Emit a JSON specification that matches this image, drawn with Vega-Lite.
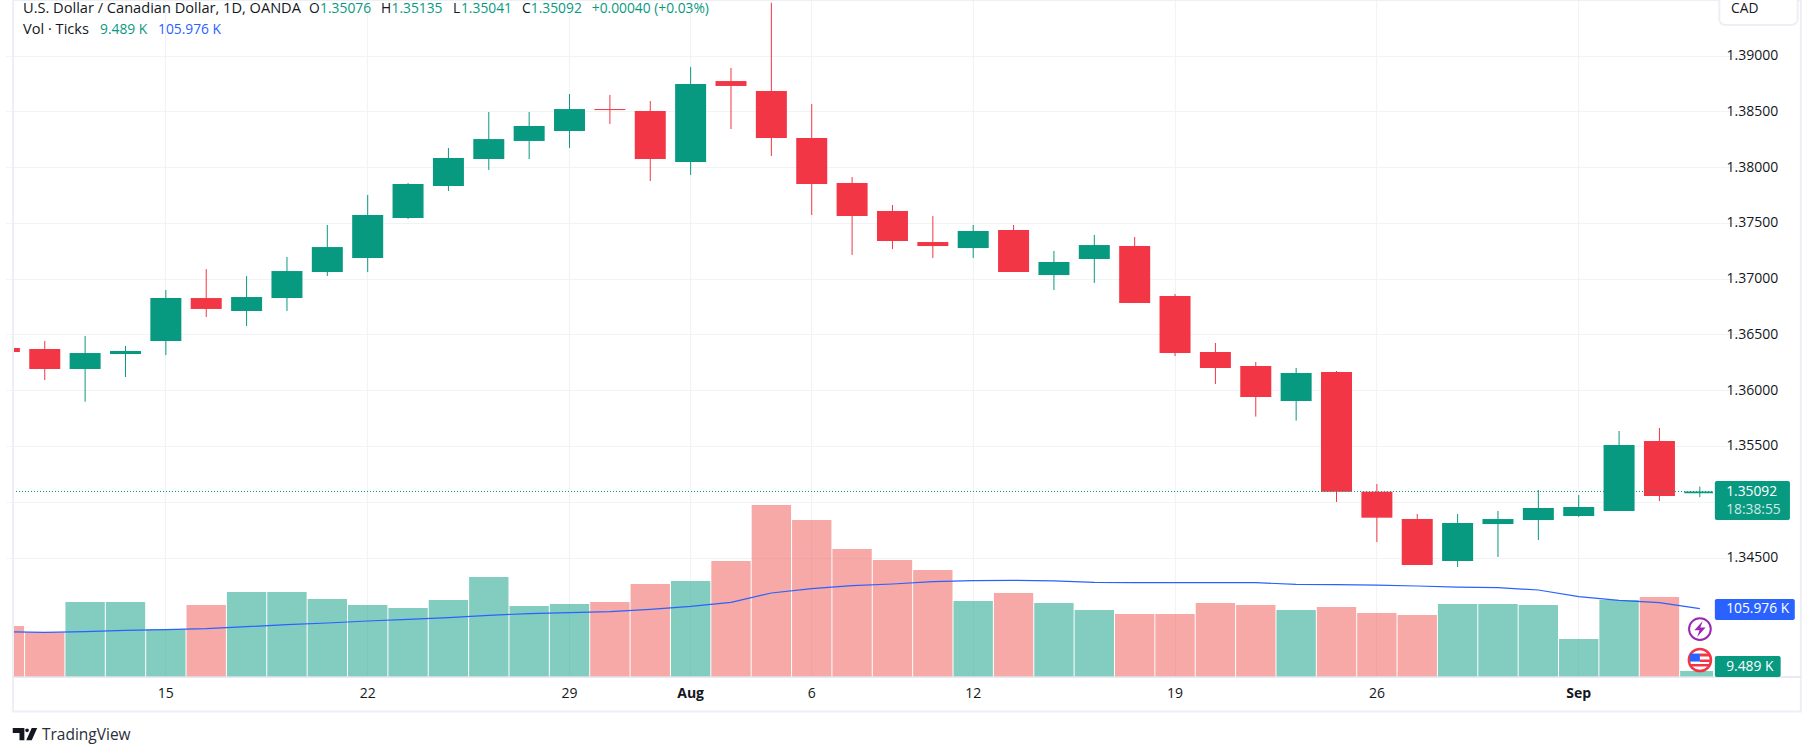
{
  "$schema": "https://vega.github.io/schema/vega-lite/v6.json",
  "width": 1700,
  "height": 677,
  "autosize": {"type": "none"},
  "padding": {"left": 13, "top": 0, "right": 101, "bottom": 79},
  "background": "white",
  "config": {
    "view": {"stroke": null},
    "text": {"font": "Open Sans"},
    "axis": {"labelFont": "Open Sans", "labelFontSize": 14, "labelColor": "#131722", "gridColor": "#f2f3f6", "gridWidth": 1.2}
  },
  "datasets": {
    "candles": [
      {"date": "2024-07-09", "open": 1.36378, "high": 1.36378, "low": 1.36342, "close": 1.36342, "volume": 79.1, "ma": 70.3},
      {"date": "2024-07-10", "open": 1.36369, "high": 1.36441, "low": 1.36091, "close": 1.3619, "volume": 69.3, "ma": 69.3},
      {"date": "2024-07-11", "open": 1.3619, "high": 1.36486, "low": 1.35897, "close": 1.36333, "volume": 116.4, "ma": 70.3},
      {"date": "2024-07-12", "open": 1.36324, "high": 1.36396, "low": 1.36118, "close": 1.36351, "volume": 116.4, "ma": 72.4},
      {"date": "2024-07-15", "open": 1.36441, "high": 1.36898, "low": 1.36315, "close": 1.36826, "volume": 74, "ma": 73.4},
      {"date": "2024-07-16", "open": 1.36826, "high": 1.37086, "low": 1.36656, "close": 1.36728, "volume": 111.7, "ma": 75},
      {"date": "2024-07-17", "open": 1.3671, "high": 1.37023, "low": 1.36575, "close": 1.36835, "volume": 131.9, "ma": 78.1},
      {"date": "2024-07-18", "open": 1.36826, "high": 1.37194, "low": 1.3671, "close": 1.37068, "volume": 131.9, "ma": 81.2},
      {"date": "2024-07-19", "open": 1.37059, "high": 1.37481, "low": 1.37023, "close": 1.37283, "volume": 121, "ma": 83.8},
      {"date": "2024-07-22", "open": 1.37185, "high": 1.3775, "low": 1.37059, "close": 1.3757, "volume": 111.7, "ma": 86.9},
      {"date": "2024-07-23", "open": 1.37543, "high": 1.37857, "low": 1.37534, "close": 1.37848, "volume": 107, "ma": 89.5},
      {"date": "2024-07-24", "open": 1.3783, "high": 1.38171, "low": 1.37785, "close": 1.38081, "volume": 119.5, "ma": 92.1},
      {"date": "2024-07-25", "open": 1.38072, "high": 1.38494, "low": 1.37974, "close": 1.38251, "volume": 155.2, "ma": 95.7},
      {"date": "2024-07-26", "open": 1.38234, "high": 1.38494, "low": 1.38072, "close": 1.38368, "volume": 110.2, "ma": 98.3},
      {"date": "2024-07-29", "open": 1.38323, "high": 1.38655, "low": 1.38171, "close": 1.3852, "volume": 113.3, "ma": 99.8},
      {"date": "2024-07-30", "open": 1.3852, "high": 1.38646, "low": 1.38386, "close": 1.38511, "volume": 116.4, "ma": 101.4},
      {"date": "2024-07-31", "open": 1.38502, "high": 1.38592, "low": 1.37875, "close": 1.38072, "volume": 144.3, "ma": 105},
      {"date": "2024-08-01", "open": 1.38045, "high": 1.38897, "low": 1.37929, "close": 1.38745, "volume": 149, "ma": 109.6},
      {"date": "2024-08-02", "open": 1.38771, "high": 1.38888, "low": 1.38341, "close": 1.38727, "volume": 180, "ma": 115.9},
      {"date": "2024-08-05", "open": 1.38682, "high": 1.39474, "low": 1.38099, "close": 1.3826, "volume": 266.9, "ma": 130.3},
      {"date": "2024-08-06", "open": 1.3826, "high": 1.38565, "low": 1.3757, "close": 1.37848, "volume": 243.6, "ma": 137.1},
      {"date": "2024-08-07", "open": 1.37857, "high": 1.37911, "low": 1.37212, "close": 1.37561, "volume": 198.6, "ma": 141.7},
      {"date": "2024-08-08", "open": 1.37606, "high": 1.3766, "low": 1.37265, "close": 1.37337, "volume": 181.5, "ma": 144.3},
      {"date": "2024-08-09", "open": 1.37328, "high": 1.37561, "low": 1.37185, "close": 1.37292, "volume": 166, "ma": 147.9},
      {"date": "2024-08-12", "open": 1.37274, "high": 1.37481, "low": 1.37185, "close": 1.37427, "volume": 117.9, "ma": 149.5},
      {"date": "2024-08-13", "open": 1.37436, "high": 1.37481, "low": 1.37059, "close": 1.37059, "volume": 130.3, "ma": 150},
      {"date": "2024-08-14", "open": 1.37032, "high": 1.37248, "low": 1.36898, "close": 1.37149, "volume": 114.8, "ma": 149},
      {"date": "2024-08-15", "open": 1.37176, "high": 1.37391, "low": 1.36961, "close": 1.37301, "volume": 104, "ma": 146.9},
      {"date": "2024-08-16", "open": 1.37292, "high": 1.37373, "low": 1.36781, "close": 1.36781, "volume": 97.8, "ma": 146.4},
      {"date": "2024-08-19", "open": 1.36844, "high": 1.36862, "low": 1.36306, "close": 1.36333, "volume": 97.8, "ma": 146.4},
      {"date": "2024-08-20", "open": 1.36342, "high": 1.36423, "low": 1.36055, "close": 1.36199, "volume": 114.8, "ma": 146.4},
      {"date": "2024-08-21", "open": 1.36217, "high": 1.36253, "low": 1.35763, "close": 1.35939, "volume": 111.7, "ma": 146.4},
      {"date": "2024-08-22", "open": 1.35903, "high": 1.36199, "low": 1.35727, "close": 1.36154, "volume": 104, "ma": 143.8},
      {"date": "2024-08-23", "open": 1.36163, "high": 1.36172, "low": 1.34998, "close": 1.3509, "volume": 108.6, "ma": 143.3},
      {"date": "2024-08-26", "open": 1.3509, "high": 1.35159, "low": 1.34639, "close": 1.34857, "volume": 99.3, "ma": 142.7},
      {"date": "2024-08-27", "open": 1.34845, "high": 1.3489, "low": 1.34433, "close": 1.34433, "volume": 96.2, "ma": 141.2},
      {"date": "2024-08-28", "open": 1.34469, "high": 1.3489, "low": 1.34415, "close": 1.34809, "volume": 113.3, "ma": 139.6},
      {"date": "2024-08-29", "open": 1.348, "high": 1.34917, "low": 1.34505, "close": 1.34845, "volume": 113.3, "ma": 138.6},
      {"date": "2024-08-30", "open": 1.34836, "high": 1.35105, "low": 1.34657, "close": 1.34944, "volume": 111.7, "ma": 135},
      {"date": "2024-09-02", "open": 1.34872, "high": 1.3506, "low": 1.34863, "close": 1.34953, "volume": 59, "ma": 124.6},
      {"date": "2024-09-03", "open": 1.34917, "high": 1.35634, "low": 1.34917, "close": 1.35509, "volume": 119.5, "ma": 119},
      {"date": "2024-09-04", "open": 1.35544, "high": 1.35661, "low": 1.35006, "close": 1.35051, "volume": 124.1, "ma": 115.3},
      {"date": "2024-09-05", "open": 1.35076, "high": 1.35135, "low": 1.35041, "close": 1.35092, "volume": 9.489, "ma": 105.976}
    ],
    "labels": [
      {"text": "O", "group": "dark", "pos": 7.545, "level": 1.39417},
      {"text": "1.35076", "group": "up", "pos": 7.82, "level": 1.39417},
      {"text": "H", "group": "dark", "pos": 9.33, "level": 1.39417},
      {"text": "1.35135", "group": "up", "pos": 9.59, "level": 1.39417},
      {"text": "L", "group": "dark", "pos": 11.11, "level": 1.39417},
      {"text": "1.35041", "group": "up", "pos": 11.31, "level": 1.39417},
      {"text": "C", "group": "dark", "pos": 12.82, "level": 1.39417},
      {"text": "1.35092", "group": "up", "pos": 13.04, "level": 1.39417},
      {"text": "+0.00040 (+0.03%)", "group": "up", "pos": 14.55, "level": 1.39417},
      {"text": "9.489 K", "group": "up", "pos": 2.368, "level": 1.39231},
      {"text": "105.976 K", "group": "ma", "pos": 3.805, "level": 1.39231},
      {"text": "CAD", "group": "dark", "pos": 42.77, "level": 1.39417},
      {"text": "1.35092", "group": "badge", "pos": 42.65, "level": 1.35087},
      {"text": "18:38:55", "group": "timer", "pos": 42.65, "level": 1.34926},
      {"text": "105.976 K", "group": "badge", "pos": 42.65, "level": 1.34038},
      {"text": "9.489 K", "group": "badge", "pos": 42.65, "level": 1.33523}
    ],
    "titles": [
      {"text": "U.S. Dollar / Canadian Dollar, 1D, OANDA", "pos": 0.461, "level": 1.39417},
      {"text": "Vol · Ticks", "pos": 0.461, "level": 1.39231}
    ],
    "badges": [
      {"group": "up", "pos": 42.37, "pos2": 44.23, "level": 1.35186, "level2": 1.34836},
      {"group": "ma", "pos": 42.37, "pos2": 44.35, "level": 1.34128, "level2": 1.3394},
      {"group": "up", "pos": 42.37, "pos2": 44, "level": 1.33617, "level2": 1.33429}
    ]
  },
  "layer": [
    {
      "data": {"name": "candles"},
      "encoding": {
        "x": {"field": "date", "type": "ordinal", "axis": null, "scale": {"type": "band", "padding": 0, "range": [-28.8, 1707]}}
      },
      "layer": [
        {
          "mark": {"type": "bar", "clip": true, "width": {"band": 0.975}, "fillOpacity": 0.5},
          "encoding": {
            "y": {"field": "volume", "type": "quantitative", "axis": null, "scale": {"domain": [0, 1050.4], "nice": false}},
            "color": {"condition": {"test": "datum.close >= datum.open", "value": "#089981"}, "value": "#EF5350"}
          }
        },
        {
          "mark": {"type": "line", "clip": true, "color": "#2962FF", "strokeWidth": 1.2},
          "encoding": {"y": {"field": "ma", "type": "quantitative"}}
        }
      ]
    },
    {
      "data": {"name": "candles"},
      "encoding": {
        "x": {
          "field": "date",
          "type": "ordinal",
          "title": null,
          "scale": {"type": "band", "padding": 0, "range": [-28.8, 1707]},
          "axis": {
            "values": ["2024-07-15", "2024-07-22", "2024-07-29", "2024-08-01", "2024-08-06", "2024-08-12", "2024-08-19", "2024-08-26", "2024-09-02"],
            "labelExpr": "datum.value == '2024-08-01' ? 'Aug' : datum.value == '2024-09-02' ? 'Sep' : toString(toNumber(substring(datum.value, 8)))",
            "labelFontWeight": {"condition": {"test": "datum.value == '2024-08-01' || datum.value == '2024-09-02'", "value": 700}, "value": 400},
            "labelAngle": 0,
            "labelOverlap": false,
            "labelPadding": 9,
            "ticks": false,
            "domain": false,
            "grid": true
          }
        },
        "y": {
          "type": "quantitative",
          "scale": {"domain": [1.33429, 1.394975], "nice": false, "zero": false}
        },
        "color": {"condition": {"test": "datum.close >= datum.open", "value": "#089981"}, "value": "#F23645"}
      },
      "layer": [
        {
          "mark": {"type": "rule", "clip": true, "strokeWidth": 1},
          "encoding": {
            "y": {
              "field": "low",
              "type": "quantitative",
              "title": null,
              "scale": {"domain": [1.33429, 1.394975], "nice": false, "zero": false},
              "axis": {
                "orient": "right",
                "values": [1.345, 1.35, 1.355, 1.36, 1.365, 1.37, 1.375, 1.38, 1.385, 1.39],
                "format": ".5f",
                "labelPadding": 13,
                "ticks": false,
                "domain": false,
                "grid": true
              }
            },
            "y2": {"field": "high"}
          }
        },
        {
          "mark": {"type": "bar", "clip": true, "width": 31},
          "encoding": {
            "y": {"field": "open", "type": "quantitative"},
            "y2": {"field": "close"}
          }
        },
        {
          "transform": [{"filter": "datum.date == '2024-09-05'"}],
          "mark": {"type": "rule", "color": "#089981", "strokeDash": [1, 2], "strokeWidth": 1},
          "encoding": {"x": {"value": 0}, "x2": {"value": 1700}, "y": {"field": "close", "type": "quantitative"}, "color": {"value": "#089981"}}
        }
      ]
    },
    {
      "encoding": {
        "x": {"field": "pos", "type": "quantitative", "axis": null, "scale": {"domain": [0.213, 42.324], "nice": false, "zero": false}},
        "y": {"field": "level", "type": "quantitative", "axis": null, "scale": {"domain": [1.33429, 1.394975], "nice": false, "zero": false}}
      },
      "layer": [
        {
          "data": {"values": [{"pos": 0.213, "pos2": 44.5, "level": 1.394975, "level2": 1.3312}]},
          "mark": {"type": "rect", "fill": null, "stroke": "#eeeff5", "strokeWidth": 2},
          "encoding": {"x2": {"field": "pos2"}, "y2": {"field": "level2"}}
        },
        {
          "data": {"values": [{"pos": 0.213, "pos2": 44.5, "level": 1.33429}]},
          "mark": {"type": "rule", "color": "#e0e3eb", "strokeWidth": 1.5},
          "encoding": {"x2": {"field": "pos2"}}
        },
        {
          "data": {"values": [{"pos": 42.48, "pos2": 44.42, "level": 1.3955, "level2": 1.39273}]},
          "mark": {"type": "rect", "fill": "white", "stroke": "#eeeff5", "strokeWidth": 2, "cornerRadius": 6},
          "encoding": {"x2": {"field": "pos2"}, "y2": {"field": "level2"}}
        },
        {
          "data": {"name": "badges"},
          "mark": {"type": "rect", "cornerRadius": 2},
          "encoding": {
            "x2": {"field": "pos2"},
            "y2": {"field": "level2"},
            "color": {"field": "group", "type": "nominal", "legend": null, "scale": {"domain": ["dark", "up", "ma", "badge", "timer"], "range": ["#131722", "#089981", "#2962FF", "#ffffff", "#cfe9e4"]}}
          }
        },
        {
          "data": {"name": "labels"},
          "mark": {"type": "text", "align": "left", "baseline": "middle", "fontSize": 13.8},
          "encoding": {
            "text": {"field": "text"},
            "color": {"field": "group", "type": "nominal", "legend": null, "scale": {"domain": ["dark", "up", "ma", "badge", "timer"], "range": ["#131722", "#089981", "#2962FF", "#ffffff", "#cfe9e4"]}}
          }
        },
        {
          "data": {"name": "titles"},
          "mark": {"type": "text", "align": "left", "baseline": "middle", "fontSize": 14.6, "color": "#131722"},
          "encoding": {"text": {"field": "text"}}
        },
        {
          "data": {"values": [{"text": "TradingView", "pos": 0.93, "level": 1.32909}]},
          "mark": {"type": "text", "align": "left", "baseline": "middle", "fontSize": 15.5, "color": "#2a2e39"},
          "encoding": {"text": {"field": "text"}}
        },
        {
          "data": {"values": [{"pos": 42, "level": 1.33859}]},
          "mark": {"type": "point", "shape": "circle", "filled": false, "stroke": "#9C27B0", "strokeWidth": 2, "size": 471, "opacity": 1}
        },
        {
          "data": {"values": [{"pos": 42, "level": 1.33859}]},
          "mark": {"type": "point", "shape": "M0.35 -1 L-0.7 0.15 H-0.05 L-0.35 1 L0.7 -0.2 H0.05 Z", "filled": true, "fill": "#9C27B0", "size": 256, "opacity": 1}
        },
        {
          "data": {"values": [{"pos": 42, "level": 1.33581}]},
          "mark": {"type": "point", "shape": "circle", "filled": true, "fill": "white", "stroke": "#F23645", "strokeWidth": 2.5, "size": 490, "opacity": 1}
        },
        {
          "data": {"values": [{"pos": 42, "level": 1.33581}]},
          "mark": {"type": "point", "shape": "M0 -.65 H1 V-.35 H0 Z M0 -.05 H1 V.2 H0 Z M-1 .4 H1 V.65 H-1 Z", "filled": true, "fill": "#F23645", "size": 400, "opacity": 1}
        },
        {
          "data": {"values": [{"pos": 42, "level": 1.33581}]},
          "mark": {"type": "point", "shape": "M-1 -.65 H0 V.15 H-1 Z", "filled": true, "fill": "#2962FF", "size": 400, "opacity": 1}
        },
        {
          "data": {"values": [{"pos": 0.51, "level": 1.32918}]},
          "mark": {"type": "point", "shape": "M-1 -.5 H-.05 V.5 H-.45 V-.08 H-1 Z M.02 -.3 a.15 .15 0 1 0 .3 0 a.15 .15 0 1 0 -.3 0 Z M1 -.5 L.55 .5 H.1 L.55 -.5 Z", "filled": true, "fill": "#131722", "size": 600, "opacity": 1}
        }
      ]
    }
  ],
  "resolve": {"scale": {"x": "independent", "y": "independent"}}
}
